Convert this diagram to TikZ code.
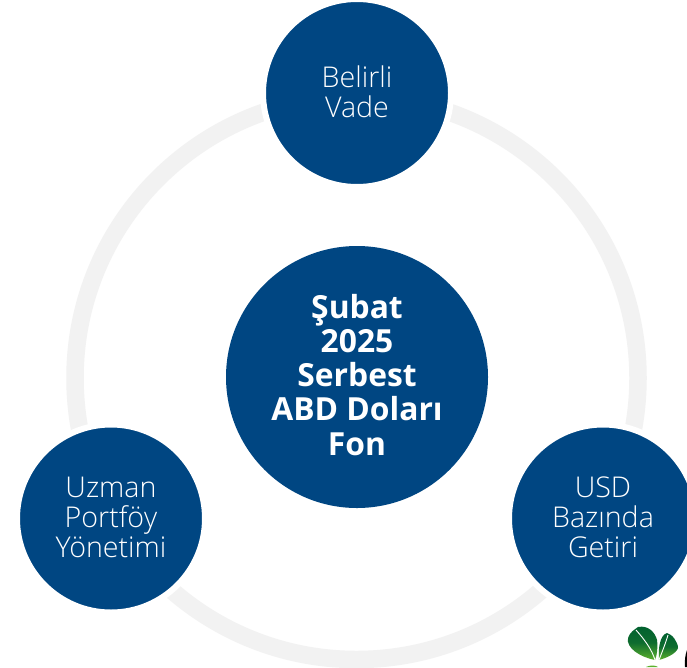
\documentclass[tikz,border=0pt]{standalone}
\usepackage{fontspec}
\setmainfont{Open Sans}
\newfontfamily\lightfont{Open Sans Light}
\newfontfamily\boldfont{Open Sans Bold}
\definecolor{fonblue}{HTML}{004682}
\definecolor{ringgrey}{HTML}{F2F2F2}
\definecolor{leafdark}{HTML}{00602F}
\definecolor{leaflight}{HTML}{5DB02D}
\tikzset{
  disc/.style={circle,fill=fonblue,draw=white,line width=6pt,inner sep=0pt,minimum size=188pt},
  disclabel/.style={inner sep=0pt,text=white,align=center,font=\lightfont\fontsize{28.6}{30}\selectfont},
  hub/.style={circle,fill=fonblue,inner sep=0pt,minimum size=262pt},
  hublabel/.style={inner sep=0pt,text=white,align=center,font=\boldfont\fontsize{31.8}{34.3}\selectfont},
  leaf/.style={shading angle=160,top color=leafdark,bottom color=leaflight,middle color=leafdark!85!leaflight,draw=none}
}
\begin{document}
\begin{tikzpicture}[x=1pt,y=-1pt]
\useasboundingbox (0,0) rectangle (687,667);
\clip (0,0) rectangle (687,667);
\fill[white] (0,0) rectangle (687,667);
\draw[ringgrey,line width=17.5pt] (356.5,378) circle[radius=281.5];
\node[disc] (top) at (357,93) {};
\node[disc] (left) at (111,518.5) {};
\node[disc] (right) at (603,518.5) {};
\node[hub] (hub) at (357,377) {};
\node[disclabel] (toptext) at (357,91.5) {Belirli\\Vade};
\node[disclabel] (lefttext) at (111,517) {Uzman\\Portföy\\Yönetimi};
\node[disclabel] (righttext) at (603,517) {USD\\Bazında\\Getiri};
\node[hublabel] (hubtext) at (357,374.7) {Şubat\\2025\\Serbest\\ABD Doları\\Fon};
\draw[leaf] (655,660) .. controls (640,657) and (626,648) .. (628,638) .. controls (630,632) and (634,630) .. (638,627) .. controls (648,625) and (655,632) .. (657,640) .. controls (658,648) and (657,655) .. (655,660) -- cycle;
\draw[white,line width=.9pt] (636,630) .. controls (645,640) and (652,650) .. (655,660);
\draw[leaf] (659,660) .. controls (658,648) and (660,635) .. (667,633) .. controls (672,634) and (678,642) .. (678,648) .. controls (676,654) and (666,658) .. (659,660) -- cycle;
\draw[white,line width=.9pt] (668,635) .. controls (665,645) and (662,652) .. (659,660);
\fill[leaflight] (646,667) .. controls (650,665) and (655,665) .. (658,667) -- cycle;
\fill[black] (687,650) .. controls (685,655) and (684.5,662) .. (685,667) -- (687,667) -- cycle;
\end{tikzpicture}
\end{document}
